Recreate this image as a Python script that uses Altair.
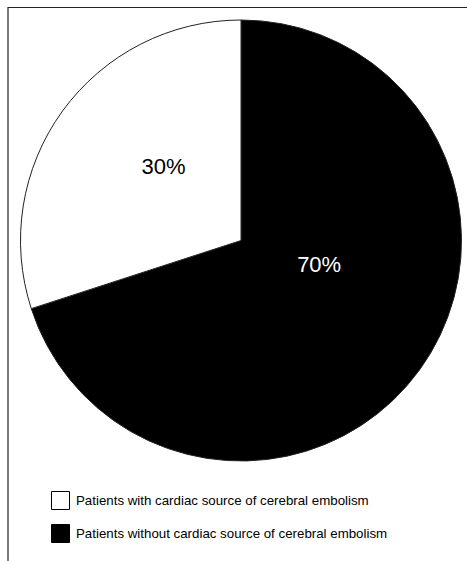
import altair as alt
import pandas as pd

categories = ["Patients without cardiac source of cerebral embolism",
              "Patients with cardiac source of cerebral embolism"]
values = [70, 30]
labels = ["70%", "30%"]
order = [0, 1]
fills = ["#000000", "#ffffff"]

df = pd.DataFrame({"cat": categories, "value": values, "label": labels,
                   "ord": order})

legend_domain = [categories[1], categories[0]]
legend_range = [fills[1], fills[0]]

CX, CY, R = 241, 240.5, 220.5

base = alt.Chart(df).encode(
    theta=alt.Theta("value:Q", stack=True),
    order=alt.Order("ord:Q"),
)

arcs = base.mark_arc(outerRadius=R, stroke="#222222", strokeWidth=1).encode(
    x=alt.value(CX), y=alt.value(CY),
    color=alt.Color("cat:N",
                    scale=alt.Scale(domain=legend_domain, range=legend_range),
                    legend=alt.Legend(
                        title=None, orient="none", legendX=51, legendY=491,
                        padding=0, symbolType="square", symbolSize=324,
                        symbolStrokeColor="#000000", symbolStrokeWidth=1,
                        symbolOpacity=1,
                        labelFont="Liberation Sans", labelFontSize=13.3,
                        labelColor="#000000", labelOffset=6, rowPadding=10,
                        labelLimit=500)),
)

t70 = base.mark_text(radius=83, dx=11, dy=-24, font="Liberation Sans",
                     fontSize=22).encode(
    x=alt.value(CX), y=alt.value(CY),
    text=alt.condition(alt.datum.label == "70%", "label:N", alt.value("")),
    color=alt.value("#ffffff"),
)
t30 = base.mark_text(radius=108, dx=10, dy=-10, font="Liberation Sans",
                     fontSize=22).encode(
    x=alt.value(CX), y=alt.value(CY),
    text=alt.condition(alt.datum.label == "30%", "label:N", alt.value("")),
    color=alt.value("#000000"),
)

frame_top = alt.Chart(pd.DataFrame({"a": [0]})).mark_rule(
    color="#222222", strokeWidth=1.2).encode(
    x=alt.value(8), x2=alt.value(467), y=alt.value(7.5))
frame_left = alt.Chart(pd.DataFrame({"a": [0]})).mark_rule(
    color="#222222", strokeWidth=1.2).encode(
    x=alt.value(8), y=alt.value(7), y2=alt.value(561))

chart = alt.layer(frame_top, frame_left, arcs, t70, t30).properties(
    width=467, height=561, padding=0,
    autosize=alt.AutoSizeParams(type="none"),
    background="#ffffff",
).configure_view(stroke=None)

chart.save("out.html", embed_options={"renderer": "svg", "actions": False})
